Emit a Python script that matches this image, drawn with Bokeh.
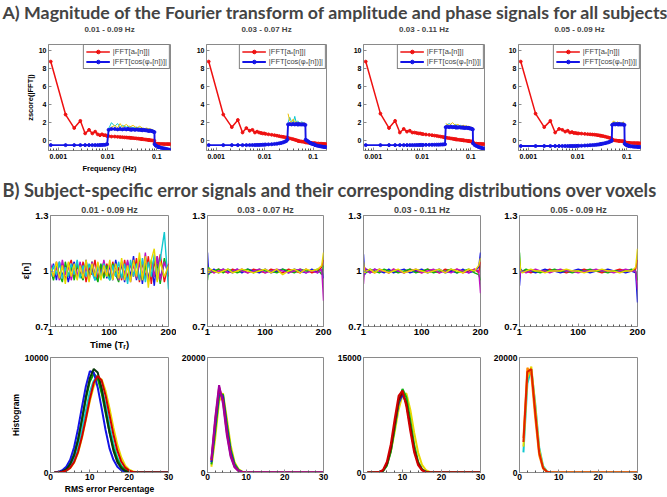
from bokeh.plotting import figure
from bokeh.layouts import column, row
from bokeh.models import FixedTicker, Legend, LegendItem, Range1d, PrintfTickFormatter, Title
from bokeh.embed import file_html
from bokeh.resources import INLINE

# ---------------- texts ----------------
header_a = "A) Magnitude of the Fourier transform of amplitude and phase signals for all subjects"
header_b = "B) Subject-specific error signals and their corresponding distributions over voxels"
band_labels = ["0.01 - 0.09 Hz", "0.03 - 0.07 Hz", "0.03 - 0.11 Hz", "0.05 - 0.09 Hz"]
legend_labels = ["|FFT[a\u2093[n]]|", "|FFT[cos(\u03c6\u2093[n])]|"]

# ---------------- row A : FFT magnitudes ----------------
freq_hz = [0.0007, 0.0014, 0.0021, 0.0028, 0.0035, 0.0042, 0.0049, 0.0056, 0.0063, 0.0070,
           0.0077, 0.0084, 0.0091, 0.0098, 0.0105, 0.012, 0.014, 0.016, 0.018, 0.020,
           0.022, 0.024, 0.026, 0.028, 0.0295, 0.0305, 0.033, 0.036, 0.039, 0.042,
           0.045, 0.048, 0.0495, 0.0505, 0.054, 0.058, 0.062, 0.066, 0.0695, 0.0705,
           0.075, 0.080, 0.085, 0.0895, 0.0905, 0.095, 0.100, 0.105, 0.1095, 0.1105,
           0.12, 0.13, 0.14, 0.15, 0.16, 0.17, 0.18, 0.19]

amp_fft_1 = [8.8, 2.9, 1.4, 2.2, 0.8, 1.2, 0.8, 1.0, 0.7, 0.6,
             0.7, 0.6, 0.6, 0.5, 0.5, 0.45, 0.45, 0.42, 0.4, 0.38,
             0.36, 0.35, 0.33, 0.32, 0.3, 0.3, 0.28, 0.26, 0.24, 0.22,
             0.2, 0.18, 0.17, 0.17, 0.15, 0.12, 0.1, 0.08, 0.06, 0.06,
             0.04, 0.02, 0.0, -0.02, -0.3, -0.35, -0.35, -0.35, -0.36, -0.36,
             -0.37, -0.37, -0.38, -0.38, -0.38, -0.39, -0.39, -0.4]
phase_fft_1 = [-0.5, -0.5, -0.5, -0.5, -0.5, -0.5, -0.5, -0.5, -0.5, -0.49,
               -0.48, -0.47, -0.45, -0.4, 1.2, 1.3, 1.3, 1.25, 1.3, 1.25,
               1.3, 1.25, 1.3, 1.25, 1.25, 1.2, 1.25, 1.2, 1.25, 1.2,
               1.2, 1.2, 1.2, 1.15, 1.2, 1.15, 1.15, 1.1, 1.1, 1.1,
               1.1, 1.05, 1.0, 0.95, -0.4, -0.55, -0.62, -0.68, -0.72, -0.73,
               -0.78, -0.83, -0.87, -0.91, -0.95, -0.98, -1.02, -1.05]
amp_fft_2 = [8.8, 2.9, 1.5, 2.3, 0.9, 1.4, 1.1, 1.2, 0.9, 1.0,
             0.9, 0.85, 0.8, 0.8, 0.75, 0.7, 0.65, 0.6, 0.55, 0.5,
             0.45, 0.42, 0.38, 0.35, 0.32, 0.28, 0.25, 0.2, 0.15, 0.1,
             0.05, 0.0, -0.02, -0.05, -0.08, -0.1, -0.12, -0.14, -0.15, -0.2,
             -0.22, -0.24, -0.25, -0.26, -0.27, -0.28, -0.29, -0.3, -0.3, -0.31,
             -0.32, -0.33, -0.34, -0.35, -0.36, -0.37, -0.38, -0.38]
phase_fft_2 = [-0.5, -0.5, -0.5, -0.5, -0.5, -0.5, -0.5, -0.49, -0.49, -0.48,
               -0.48, -0.47, -0.46, -0.45, -0.44, -0.42, -0.4, -0.37, -0.34, -0.3,
               -0.26, -0.2, -0.13, -0.05, 0.1, 1.8, 1.85, 1.8, 1.85, 1.8,
               1.85, 1.8, 1.8, 1.85, 1.8, 1.8, 1.8, 1.8, 1.75, 0.1,
               0.0, -0.1, -0.2, -0.28, -0.3, -0.35, -0.38, -0.42, -0.45, -0.5,
               -0.55, -0.6, -0.63, -0.66, -0.68, -0.7, -0.72, -0.73]
amp_fft_3 = [8.8, 3.0, 1.4, 2.2, 0.9, 1.3, 1.0, 1.1, 0.9, 0.9,
             0.85, 0.8, 0.8, 0.75, 0.72, 0.68, 0.64, 0.6, 0.56, 0.52,
             0.48, 0.45, 0.42, 0.38, 0.35, 0.33, 0.3, 0.27, 0.24, 0.21,
             0.18, 0.15, 0.14, 0.13, 0.11, 0.09, 0.07, 0.05, 0.03, 0.03,
             0.01, -0.01, -0.03, -0.05, -0.05, -0.07, -0.09, -0.1, -0.12, -0.3,
             -0.32, -0.34, -0.35, -0.36, -0.37, -0.38, -0.38, -0.39]
phase_fft_3 = [-0.5, -0.5, -0.5, -0.5, -0.5, -0.5, -0.5, -0.5, -0.5, -0.5,
               -0.49, -0.49, -0.48, -0.48, -0.48, -0.47, -0.47, -0.46, -0.46, -0.45,
               -0.45, -0.44, -0.43, -0.42, -0.4, 1.5, 1.55, 1.5, 1.55, 1.5,
               1.5, 1.5, 1.45, 1.5, 1.45, 1.5, 1.45, 1.45, 1.45, 1.45,
               1.4, 1.45, 1.4, 1.4, 1.4, 1.35, 1.35, 1.3, 1.25, -0.3,
               -0.5, -0.6, -0.68, -0.74, -0.79, -0.83, -0.87, -0.9]
amp_fft_4 = [8.8, 3.0, 1.5, 2.2, 0.9, 1.3, 1.2, 1.0, 1.1, 0.9,
             0.95, 0.85, 0.85, 0.8, 0.8, 0.78, 0.75, 0.72, 0.7, 0.68,
             0.66, 0.63, 0.6, 0.57, 0.55, 0.53, 0.5, 0.45, 0.4, 0.35,
             0.3, 0.25, 0.2, 0.1, 0.05, 0.02, 0.0, -0.02, -0.03, -0.04,
             -0.05, -0.06, -0.07, -0.08, -0.2, -0.22, -0.23, -0.24, -0.25, -0.25,
             -0.26, -0.27, -0.27, -0.28, -0.28, -0.29, -0.3, -0.3]
phase_fft_4 = [-0.6, -0.6, -0.6, -0.6, -0.6, -0.6, -0.6, -0.6, -0.6, -0.6,
               -0.6, -0.6, -0.59, -0.59, -0.58, -0.57, -0.55, -0.53, -0.51, -0.5,
               -0.48, -0.46, -0.44, -0.41, -0.39, -0.37, -0.33, -0.29, -0.24, -0.19,
               -0.13, -0.06, 0.0, 1.75, 1.85, 1.8, 1.85, 1.8, 1.8, 1.85,
               1.8, 1.8, 1.8, 1.75, -0.35, -0.45, -0.5, -0.55, -0.58, -0.6,
               -0.63, -0.65, -0.67, -0.68, -0.69, -0.7, -0.7, -0.71]

# individual-subject traces visible above the phase band
subj_freq_1 = [0.0105, 0.012, 0.014, 0.016, 0.018, 0.02, 0.024, 0.028, 0.033, 0.039, 0.045, 0.054, 0.062, 0.07, 0.08, 0.0895]
subj_cyan_1 = [1.3, 2.0, 1.6, 1.9, 1.5, 1.7, 1.5, 1.6, 1.4, 1.5, 1.4, 1.35, 1.3, 1.3, 1.2, 1.1]
subj_yellow_1 = [1.2, 1.5, 1.7, 1.4, 1.9, 1.5, 1.8, 1.5, 1.7, 1.4, 1.6, 1.3, 1.4, 1.3, 1.25, 1.0]
subj_freq_2 = [0.0305, 0.033, 0.036, 0.039, 0.042, 0.045, 0.048, 0.054, 0.058, 0.062, 0.066, 0.0695]
subj_cyan_2 = [2.0, 2.6, 2.1, 2.0, 2.7, 2.0, 2.2, 1.9, 2.1, 2.0, 1.9, 1.8]
subj_yellow_2 = [3.0, 2.2, 2.0, 2.4, 2.0, 2.1, 2.0, 1.9, 2.0, 1.9, 2.0, 1.9]
subj_freq_3 = [0.0305, 0.036, 0.042, 0.048, 0.054, 0.062, 0.07, 0.08, 0.09, 0.1, 0.1095]
subj_cyan_3 = [1.7, 1.9, 1.6, 1.8, 1.6, 1.7, 1.5, 1.6, 1.5, 1.4, 1.3]
subj_yellow_3 = [1.9, 1.7, 2.0, 1.7, 1.8, 1.6, 1.7, 1.6, 1.6, 1.5, 1.4]
subj_freq_4 = [0.0505, 0.054, 0.058, 0.062, 0.066, 0.0705, 0.075, 0.08, 0.085, 0.0895]
subj_cyan_4 = [1.9, 2.0, 2.1, 1.9, 2.0, 2.0, 1.9, 2.0, 1.9, 1.7]
subj_yellow_4 = [2.0, 2.2, 1.9, 2.0, 2.1, 1.9, 2.0, 1.9, 2.1, 1.8]

freq_ticks = [0.001, 0.01, 0.1]
freq_minor = [0.0007, 0.0008, 0.0009, 0.002, 0.003, 0.004, 0.005, 0.006, 0.007, 0.008, 0.009,
              0.02, 0.03, 0.04, 0.05, 0.06, 0.07, 0.08, 0.09]
zscore_ticks = [0, 2, 4, 6, 8, 10]

# ---------------- row B1 : error signals ----------------
time_a = [1, 6, 11, 16, 21, 26, 31, 36, 41, 46,
          51, 56, 61, 66, 71, 76, 81, 86, 91, 96,
          101, 106, 111, 116, 121, 126, 131, 136, 141, 146,
          151, 156, 161, 166, 171, 176, 181, 186, 193, 200]
err1_red = [1.03, 0.96, 1.05, 0.97, 1.04, 0.95, 1.02, 1.06, 0.96, 1.03,
            0.97, 1.05, 0.94, 1.02, 0.98, 1.06, 0.95, 1.03, 0.97, 1.04,
            0.96, 1.05, 0.97, 1.02, 0.95, 1.06, 0.96, 1.04, 0.97, 1.07,
            0.94, 1.05, 0.96, 1.08, 0.93, 1.06, 0.95, 1.09, 0.94, 1.04]
err1_blue = [0.98, 1.04, 0.95, 1.05, 0.97, 1.03, 0.94, 1.01, 1.05, 0.96,
             1.04, 0.97, 1.06, 0.96, 1.03, 0.95, 1.04, 0.98, 1.05, 0.96,
             1.03, 0.95, 1.06, 0.97, 1.04, 0.94, 1.05, 0.97, 1.08, 0.95,
             1.06, 0.93, 1.07, 0.95, 1.05, 0.92, 1.08, 0.96, 1.04, 1.02]
err1_green = [1.01, 0.95, 1.03, 0.98, 0.94, 1.05, 0.97, 1.03, 0.95, 1.04,
              0.98, 0.95, 1.04, 0.97, 1.05, 0.98, 0.94, 1.04, 0.96, 1.03,
              0.95, 1.04, 0.98, 0.94, 1.05, 0.97, 1.03, 0.95, 1.05, 0.96,
              1.07, 0.95, 1.03, 0.94, 1.06, 0.97, 1.04, 0.93, 1.07, 0.97]
err1_magenta = [1.04, 0.97, 1.02, 0.95, 1.06, 0.98, 1.04, 0.95, 1.03, 0.97,
                1.05, 0.96, 1.02, 0.95, 1.05, 0.97, 1.03, 0.96, 1.06, 0.97,
                1.04, 0.96, 1.03, 0.95, 1.05, 0.98, 1.06, 0.94, 1.04, 0.96,
                1.05, 0.97, 1.10, 0.94, 1.04, 0.97, 1.08, 0.95, 1.05, 0.98]
err1_cyan = [0.97, 1.03, 0.98, 1.05, 0.96, 1.02, 0.97, 1.04, 0.98, 1.06,
             0.96, 1.03, 0.97, 1.04, 0.99, 0.95, 1.03, 0.97, 1.04, 0.98,
             0.95, 1.03, 0.97, 1.05, 0.96, 1.04, 0.93, 1.06, 0.97, 1.04,
             0.95, 1.07, 0.94, 1.05, 0.97, 1.09, 0.95, 1.06, 1.21, 0.90]
err1_yellow = [1.02, 0.97, 1.05, 0.96, 1.03, 0.93, 1.05, 0.97, 1.04, 0.95,
               1.03, 0.96, 1.06, 0.94, 1.04, 0.97, 1.05, 0.95, 1.03, 0.97,
               1.06, 0.95, 1.04, 0.96, 1.07, 0.95, 1.03, 0.94, 1.06, 0.97,
               1.10, 0.95, 1.08, 0.91, 1.06, 1.12, 0.94, 1.05, 0.97, 1.03]

time_b = [1, 3, 6, 12, 20, 28, 36, 44, 52, 60,
          70, 80, 90, 100, 110, 120, 130, 140, 150, 160,
          170, 180, 190, 197, 200]
err2_red = [1.04, 0.99, 1.01, 0.99, 1.01, 1.0, 0.99, 1.01, 1.0, 1.01,
            0.99, 1.01, 1.0, 0.99, 1.01, 1.0, 0.99, 1.01, 1.0, 0.99,
            1.01, 0.99, 1.0, 1.02, 1.06]
err2_blue = [1.10, 0.98, 1.0, 1.01, 0.99, 1.01, 1.0, 0.99, 1.01, 0.99,
             1.01, 1.0, 0.99, 1.01, 0.99, 1.0, 1.01, 0.99, 1.01, 1.0,
             0.99, 1.01, 0.99, 1.01, 0.96]
err2_green = [0.95, 1.02, 0.99, 1.0, 1.01, 0.99, 1.01, 1.0, 0.99, 1.0,
              1.01, 0.99, 1.01, 1.0, 1.0, 0.99, 1.01, 1.0, 0.99, 1.01,
              1.0, 1.0, 1.01, 0.98, 1.03]
err2_magenta = [0.98, 1.01, 1.0, 0.99, 1.0, 1.01, 0.99, 1.0, 1.01, 1.0,
                0.99, 1.0, 1.01, 0.99, 1.0, 1.01, 1.0, 0.99, 1.0, 1.01,
                0.99, 1.0, 0.99, 1.01, 0.84]
err2_yellow = [1.02, 0.99, 1.01, 1.0, 0.99, 1.0, 1.01, 0.99, 1.0, 1.01,
               1.0, 0.99, 1.0, 1.01, 0.99, 1.01, 0.98, 1.0, 1.01, 0.99,
               1.01, 1.0, 1.01, 1.03, 1.10]
err3_red = [1.03, 0.99, 1.01, 1.0, 0.99, 1.01, 1.0, 0.99, 1.01, 1.0,
            0.99, 1.01, 1.0, 0.99, 1.01, 1.0, 0.99, 1.01, 1.0, 1.01,
            0.99, 1.0, 1.01, 0.99, 1.05]
err3_blue = [1.09, 0.98, 1.01, 0.99, 1.01, 1.0, 0.99, 1.01, 0.99, 1.0,
             1.01, 0.99, 1.0, 1.01, 0.99, 1.0, 1.01, 0.99, 1.0, 0.99,
             1.01, 0.99, 1.0, 1.02, 1.10]
err3_green = [0.97, 1.01, 0.99, 1.01, 1.0, 0.99, 1.01, 1.0, 1.0, 0.99,
              1.0, 1.01, 0.99, 1.0, 1.01, 0.99, 1.0, 1.0, 1.01, 0.99,
              1.0, 1.01, 0.99, 0.98, 0.95]
err3_magenta = [0.93, 1.02, 1.0, 0.99, 1.01, 1.0, 1.0, 0.99, 1.01, 1.0,
                0.99, 1.0, 1.01, 0.99, 1.0, 1.01, 0.99, 1.0, 0.99, 1.01,
                1.0, 0.99, 1.01, 1.0, 0.88]
err3_yellow = [1.05, 0.99, 1.0, 1.01, 0.99, 1.01, 1.0, 0.99, 1.0, 1.01,
               0.99, 1.0, 1.01, 1.0, 0.99, 1.0, 1.01, 0.99, 1.01, 1.0,
               0.99, 1.01, 1.0, 1.03, 1.07]
err4_red = [1.04, 1.0, 1.0, 1.0, 0.99, 1.0, 1.0, 1.0, 1.01, 1.0,
            1.0, 0.99, 1.0, 1.0, 1.01, 1.0, 1.0, 0.99, 1.0, 1.0,
            1.01, 1.0, 1.0, 1.01, 1.06]
err4_blue = [0.92, 1.01, 1.0, 1.0, 1.0, 0.99, 1.0, 1.01, 1.0, 1.0,
             0.99, 1.0, 1.0, 1.01, 1.0, 0.99, 1.0, 1.0, 1.01, 1.0,
             1.0, 0.99, 1.0, 0.99, 0.83]
err4_green = [1.10, 0.99, 1.0, 1.01, 1.0, 1.0, 0.99, 1.0, 1.0, 1.01,
              1.0, 1.0, 0.99, 1.0, 1.0, 1.01, 1.0, 1.0, 0.99, 1.0,
              1.0, 1.0, 1.01, 1.0, 0.95]
err4_magenta = [0.96, 1.0, 1.0, 0.99, 1.0, 1.01, 1.0, 1.0, 0.99, 1.0,
                1.01, 1.0, 1.0, 0.99, 1.0, 1.0, 1.01, 1.0, 1.0, 0.99,
                1.0, 1.01, 1.0, 1.0, 0.90]
err4_yellow = [1.07, 1.0, 0.99, 1.0, 1.01, 1.0, 1.0, 0.99, 1.0, 1.0,
               1.0, 1.01, 1.0, 1.0, 0.99, 1.0, 1.0, 1.01, 1.0, 1.0,
               0.99, 1.0, 1.0, 1.02, 1.12]

time_ticks = [1, 100, 200]
time_minor = [10, 20, 30, 40, 50, 60, 70, 80, 90, 110, 120, 130, 140, 150, 160, 170, 180, 190]
err_ticks = [0.7, 1, 1.3]

# ---------------- row B2 : RMS error histograms ----------------
rms_bins = [1, 2, 3, 4, 5, 6, 7, 8, 9, 10,
            11, 12, 13, 14, 15, 16, 17, 18, 19, 20,
            21, 22, 23, 24, 25, 26, 27, 28, 29, 30]
hist1_yellow = [0, 0, 40, 150, 380, 850, 1700, 3000, 4600, 6200,
                7500, 8200, 8100, 7100, 5600, 3900, 2400, 1300, 600, 250,
                90, 30, 0, 0, 0, 0, 0, 0, 0, 0]
hist1_cyan = [0, 10, 60, 200, 520, 1150, 2200, 3700, 5400, 7000,
              8000, 8200, 7400, 5900, 4100, 2500, 1300, 600, 240, 80,
              20, 0, 0, 0, 0, 0, 0, 0, 0, 0]
hist1_green = [0, 30, 120, 350, 800, 1600, 2900, 4600, 6400, 7900,
               8600, 8200, 6900, 5200, 3500, 2100, 1100, 500, 200, 70,
               20, 0, 0, 0, 0, 0, 0, 0, 0, 0]
hist1_blue = [0, 60, 200, 500, 1100, 2200, 3800, 5700, 7500, 8800,
              8700, 7400, 5600, 3700, 2100, 1100, 500, 200, 70, 20,
              0, 0, 0, 0, 0, 0, 0, 0, 0, 0]
hist1_dark = [0, 20, 90, 280, 700, 1500, 2800, 4600, 6600, 8200,
              9000, 8700, 7300, 5400, 3500, 1900, 900, 380, 130, 40,
              10, 0, 0, 0, 0, 0, 0, 0, 0, 0]
hist1_red = [0, 0, 40, 150, 400, 900, 1800, 3100, 4700, 6400,
             7800, 8400, 8000, 6700, 5000, 3300, 1900, 950, 420, 160,
             50, 10, 0, 0, 0, 0, 0, 0, 0, 0]

hist2_yellow = [1000, 6000, 12400, 13800, 9400, 4700, 1800, 600, 150, 30,
                0, 0, 0, 0, 0, 0, 0, 0, 0, 0,
                0, 0, 0, 0, 0, 0, 0, 0, 0, 0]
hist2_green = [1400, 7200, 13300, 13600, 8600, 4000, 1500, 450, 110, 20,
               0, 0, 0, 0, 0, 0, 0, 0, 0, 0,
               0, 0, 0, 0, 0, 0, 0, 0, 0, 0]
hist2_blue = [1800, 8200, 14000, 13200, 7800, 3500, 1200, 350, 80, 15,
              0, 0, 0, 0, 0, 0, 0, 0, 0, 0,
              0, 0, 0, 0, 0, 0, 0, 0, 0, 0]
hist2_red = [2100, 9000, 14800, 12500, 7000, 3000, 1000, 300, 70, 10,
             0, 0, 0, 0, 0, 0, 0, 0, 0, 0,
             0, 0, 0, 0, 0, 0, 0, 0, 0, 0]
hist2_magenta = [2300, 9500, 15200, 12000, 6500, 2700, 900, 250, 60, 10,
                 0, 0, 0, 0, 0, 0, 0, 0, 0, 0,
                 0, 0, 0, 0, 0, 0, 0, 0, 0, 0]

hist3_yellow = [0, 0, 0, 40, 250, 1000, 2700, 5300, 8200, 10100,
                10300, 8200, 5200, 2600, 1000, 300, 70, 10, 0, 0,
                0, 0, 0, 0, 0, 0, 0, 0, 0, 0]
hist3_blue = [0, 0, 0, 30, 200, 1000, 2900, 6000, 9000, 10200,
              9000, 6200, 3200, 1250, 380, 90, 15, 0, 0, 0,
              0, 0, 0, 0, 0, 0, 0, 0, 0, 0]
hist3_green = [0, 0, 0, 20, 180, 900, 2700, 5800, 9200, 10900,
               9800, 6800, 3600, 1400, 420, 100, 20, 0, 0, 0,
               0, 0, 0, 0, 0, 0, 0, 0, 0, 0]
hist3_maroon = [0, 0, 0, 30, 250, 1100, 3100, 6300, 9400, 10500,
                9000, 6000, 3000, 1200, 350, 80, 15, 0, 0, 0,
                0, 0, 0, 0, 0, 0, 0, 0, 0, 0]
hist3_red = [0, 0, 0, 50, 350, 1400, 3700, 7000, 10000, 10700,
             8600, 5400, 2600, 950, 280, 60, 10, 0, 0, 0,
             0, 0, 0, 0, 0, 0, 0, 0, 0, 0]

hist4_cyan = [3500, 15500, 18000, 12000, 4400, 1100, 200, 20, 0, 0,
              0, 0, 0, 0, 0, 0, 0, 0, 0, 0,
              0, 0, 0, 0, 0, 0, 0, 0, 0, 0]
hist4_yellow = [4500, 16500, 18400, 11500, 4000, 950, 150, 10, 0, 0,
                0, 0, 0, 0, 0, 0, 0, 0, 0, 0,
                0, 0, 0, 0, 0, 0, 0, 0, 0, 0]
hist4_orange = [6000, 18200, 17000, 9500, 3000, 650, 90, 0, 0, 0,
                0, 0, 0, 0, 0, 0, 0, 0, 0, 0,
                0, 0, 0, 0, 0, 0, 0, 0, 0, 0]
hist4_red = [5300, 17500, 18000, 10500, 3500, 800, 120, 0, 0, 0,
             0, 0, 0, 0, 0, 0, 0, 0, 0, 0,
             0, 0, 0, 0, 0, 0, 0, 0, 0, 0]

hist_ymax = [10000, 20000, 15000, 20000]
rms_ticks = [0, 10, 20, 30]
rms_minor = [2, 4, 6, 8, 12, 14, 16, 18, 22, 24, 26, 28]

# ---------------- styling ----------------
FONT = "Liberation Sans"
HEAD_FONT = "Lato"
GRAY = "#8a8a8a"
C_RED, C_BLUE, C_GREEN = "#ee1111", "#1414e6", "#10b010"
C_MAG, C_CYAN, C_YEL = "#c010c0", "#10c8d0", "#e8d800"
PAGE_W = 667


def base_fig(width, height, left, right, top, bottom, x_range, y_range,
             title="", title_size="8px", title_standoff=2, x_type="linear",
             tick_size="8px", label_size="8px", title_gap=0):
    p = figure(width=width, height=height, x_range=x_range, y_range=y_range,
               x_axis_type=x_type, toolbar_location=None, output_backend="svg",
               min_border_left=left, min_border_right=right,
               min_border_top=top, min_border_bottom=bottom)
    if title_gap:
        # blank spacer between the frame and the subplot title
        p.add_layout(Title(text=" ", text_font_size="%dpx" % title_gap, standoff=0), "above")
    p.title.text = title
    p.title.align = "center"
    p.title.text_font = FONT
    p.title.text_font_size = title_size
    p.title.text_font_style = "bold"
    p.title.standoff = title_standoff
    p.grid.visible = False
    p.outline_line_color = GRAY
    p.outline_line_width = 1
    p.border_fill_color = "white"
    for ax in (p.xaxis[0], p.yaxis[0]):
        ax.axis_line_color = GRAY
        ax.major_tick_line_color = GRAY
        ax.minor_tick_line_color = "#555555"
        ax.major_tick_in = 3
        ax.major_tick_out = 0
        ax.minor_tick_in = 2
        ax.minor_tick_out = 0
        ax.major_label_text_font = FONT
        ax.major_label_text_font_style = "bold"
        ax.major_label_text_font_size = tick_size
        ax.major_label_text_color = "black"
        ax.major_label_standoff = 2
        ax.axis_label_text_font = FONT
        ax.axis_label_text_font_style = "bold"
        ax.axis_label_text_font_size = label_size
        ax.axis_label_text_color = "black"
        ax.axis_label_standoff = 1
        ax.formatter = PrintfTickFormatter(format="%g")
    return p


def header(text, height, size):
    h = figure(width=PAGE_W, height=height, toolbar_location=None, output_backend="svg",
               x_axis_location=None, y_axis_location=None, min_border=0)
    h.title.text = text
    h.title.text_font = HEAD_FONT
    h.title.text_font_size = size
    h.title.text_font_style = "bold"
    h.title.align = "left"
    h.title.standoff = 0
    h.title.offset = 2
    h.outline_line_color = None
    h.grid.visible = False
    return h


# (figure width, left border, right border)
row1_geom = [(187, 48, 17), (157, 19, 18), (156, 19, 16), (167, 18, 27)]
row23_geom = [(176, 50, 8), (157, 31, 10), (157, 30, 10), (177, 29, 30)]

amp_sets = [amp_fft_1, amp_fft_2, amp_fft_3, amp_fft_4]
phase_sets = [phase_fft_1, phase_fft_2, phase_fft_3, phase_fft_4]
subj_sets = [(subj_freq_1, subj_cyan_1, subj_yellow_1), (subj_freq_2, subj_cyan_2, subj_yellow_2),
             (subj_freq_3, subj_cyan_3, subj_yellow_3), (subj_freq_4, subj_cyan_4, subj_yellow_4)]

row1 = []
for i in range(4):
    w, l, r = row1_geom[i]
    p = base_fig(w, 156, l, r, 21, 28, Range1d(0.00063, 0.19), Range1d(-1.1, 10.7),
                 title=band_labels[i], title_size="8px", title_standoff=0, x_type="log",
                 tick_size="7px", label_size="7.5px", title_gap=8)
    p.xaxis.ticker = FixedTicker(ticks=freq_ticks, minor_ticks=freq_minor)
    p.yaxis.ticker = FixedTicker(ticks=zscore_ticks)
    p.xaxis.major_label_standoff = 3
    p.xaxis.axis_label_standoff = 2
    if i == 0:
        p.xaxis.axis_label = "Frequency (Hz)"
        p.yaxis.axis_label = "zscore(|FFT|)"
    sf, sc, sy = subj_sets[i]
    p.line(sf, sc, color=C_CYAN, line_width=1)
    p.line(sf, sy, color="#f0c000", line_width=1)
    rl = p.line(freq_hz, amp_sets[i], color=C_RED, line_width=1.5)
    rs = p.scatter(freq_hz, amp_sets[i], marker="circle", size=2.8, color=C_RED)
    bl = p.line(freq_hz, phase_sets[i], color=C_BLUE, line_width=1.9)
    bs = p.scatter(freq_hz, phase_sets[i], marker="circle", size=3, color=C_BLUE)
    leg = Legend(items=[LegendItem(label=legend_labels[0], renderers=[rl, rs]),
                        LegendItem(label=legend_labels[1], renderers=[bl, bs])],
                 location="top_right", label_text_font=FONT, label_text_font_size="7.5px",
                 glyph_width=24, glyph_height=9, label_height=9, spacing=1, padding=2,
                 margin=0, border_line_color="black", border_line_width=0.8,
                 label_standoff=3, background_fill_alpha=1)
    p.add_layout(leg)
    row1.append(p)

err_sets = [
    [(err1_red, C_RED), (err1_blue, C_BLUE), (err1_green, C_GREEN), (err1_magenta, C_MAG),
     (err1_cyan, C_CYAN), (err1_yellow, C_YEL)],
    [(err2_red, C_RED), (err2_blue, C_BLUE), (err2_green, C_GREEN), (err2_magenta, C_MAG),
     (err2_yellow, C_YEL)],
    [(err3_red, C_RED), (err3_blue, C_BLUE), (err3_green, C_GREEN), (err3_magenta, C_MAG),
     (err3_yellow, C_YEL)],
    [(err4_red, C_RED), (err4_blue, C_BLUE), (err4_green, C_GREEN), (err4_magenta, C_MAG),
     (err4_yellow, C_YEL)],
]
row2 = []
for i in range(4):
    w, l, r = row23_geom[i]
    p = base_fig(w, 152, l, r, 15, 23, Range1d(1, 200), Range1d(0.7, 1.3),
                 title=band_labels[i], title_size="9px", title_standoff=2,
                 tick_size="9.5px", label_size="9.5px")
    p.xaxis.ticker = FixedTicker(ticks=time_ticks, minor_ticks=time_minor)
    p.yaxis.ticker = FixedTicker(ticks=err_ticks)
    if i == 0:
        p.xaxis.axis_label = "Time (T\u1d63)"
        p.yaxis.axis_label = "\u03b5[n]"
    tx = time_a if i == 0 else time_b
    for vals, col in err_sets[i]:
        p.line(tx, vals, color=col, line_width=1.4)
    row2.append(p)

hist_sets = [
    [(hist1_yellow, C_YEL), (hist1_cyan, C_CYAN), (hist1_green, "#00a000"), (hist1_blue, C_BLUE),
     (hist1_dark, "#0a3a0a"), (hist1_red, "#d00000")],
    [(hist2_yellow, C_YEL), (hist2_green, C_GREEN), (hist2_blue, C_BLUE), (hist2_red, C_RED),
     (hist2_magenta, "#a000a0")],
    [(hist3_yellow, C_YEL), (hist3_blue, C_BLUE), (hist3_green, C_GREEN), (hist3_maroon, "#7a0000"),
     (hist3_red, "#d00000")],
    [(hist4_cyan, C_CYAN), (hist4_yellow, C_YEL), (hist4_orange, "#ff8a00"), (hist4_red, "#e02000")],
]
row3 = []
for i in range(4):
    w, l, r = row23_geom[i]
    p = base_fig(w, 144, l, r, 5, 23, Range1d(0, 30), Range1d(0, hist_ymax[i]),
                 tick_size="8.5px", label_size="8.5px")
    p.xaxis.ticker = FixedTicker(ticks=rms_ticks, minor_ticks=rms_minor)
    p.yaxis.ticker = FixedTicker(ticks=[0, hist_ymax[i]])
    p.xaxis.major_label_standoff = 1
    p.xaxis.axis_label_standoff = 1
    if i == 0:
        p.xaxis.axis_label = "RMS error Percentage"
        p.yaxis.axis_label = "Histogram"
    for vals, col in hist_sets[i]:
        p.line(rms_bins, vals, color=col, line_width=2)
    row3.append(p)

layout = column(header(header_a, 22, "17.8px"), row(*row1),
                header(header_b, 22, "18.3px"), row(*row2), row(*row3))

open("out.html", "w").write(file_html(layout, INLINE))
